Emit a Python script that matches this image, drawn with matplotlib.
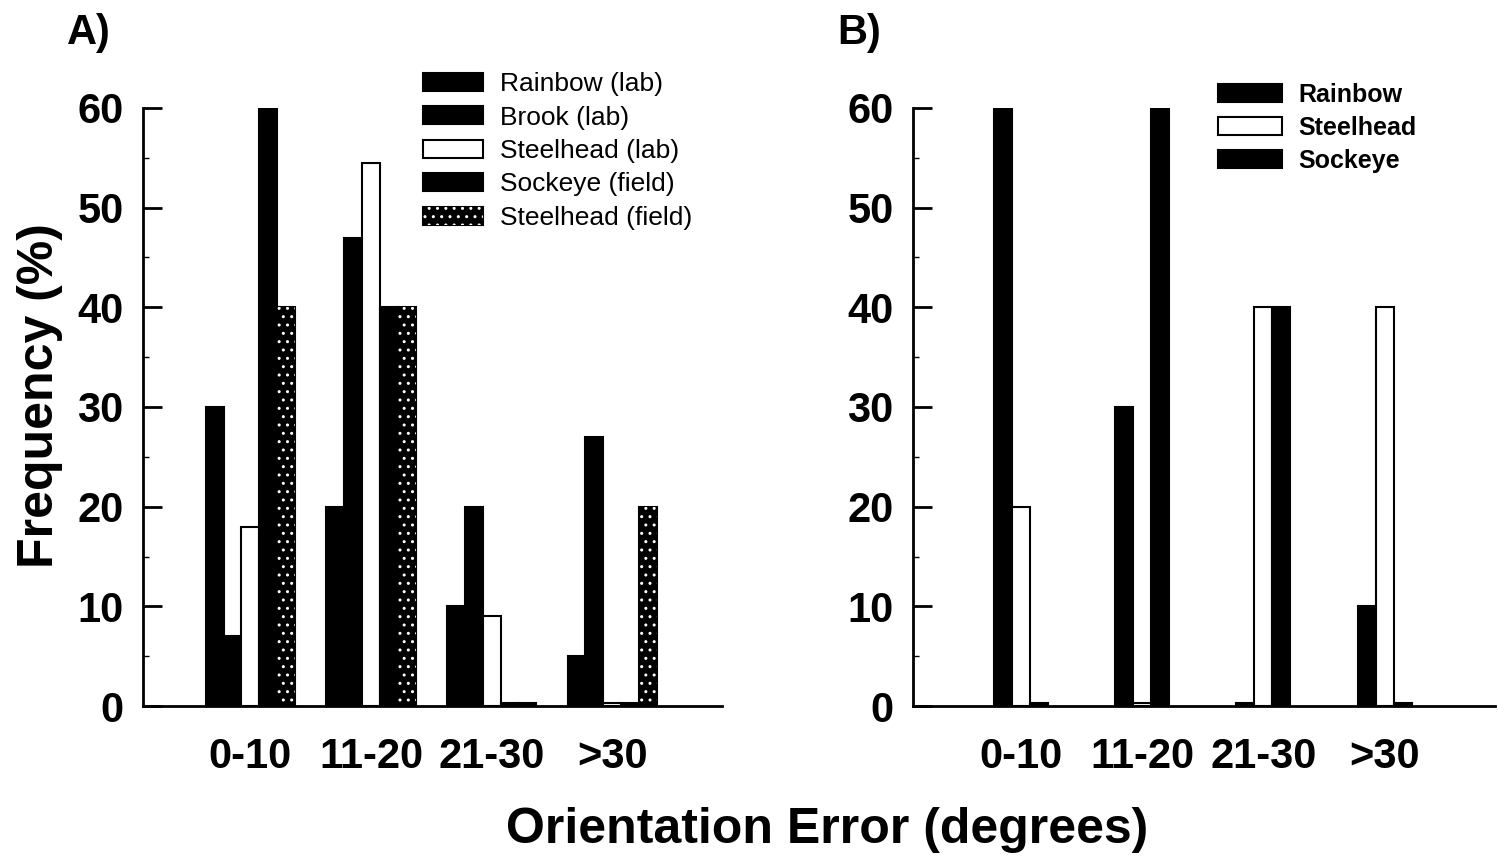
import matplotlib.pyplot as plt
import numpy as np
from matplotlib.patches import Patch
from matplotlib.legend_handler import HandlerTuple

plt.rcParams['font.family'] = ['Liberation Sans', 'DejaVu Sans']
plt.rcParams['hatch.linewidth'] = 1.0
plt.rcParams['hatch.color'] = 'white'

categories = ['0-10', '11-20', '21-30', '>30']

# A) lab and field fish
rainbow_lab = [30, 20, 10, 5]
brook_lab = [7, 47, 20, 27]
steelhead_lab = [18, 54.5, 9, 0.3]
sockeye_field = [60, 40, 0.3, 0.3]
steelhead_field = [40, 40, 0.3, 20]

# B)
rainbow = [60, 30, 0.3, 10]
steelhead = [20, 0.3, 40, 40]
sockeye = [0.3, 60, 40, 0.3]

BAR_W = 0.148
EDGE = 1.5
STIPPLE = '..'


def legend_handle(style):
    if style == 'solid':
        return Patch(facecolor='black', edgecolor='black', linewidth=EDGE)
    if style == 'open':
        return Patch(facecolor='white', edgecolor='black', linewidth=EDGE)
    return (Patch(facecolor='black', edgecolor='black', linewidth=EDGE),
            Patch(fill=False, edgecolor='white', linewidth=0, hatch=STIPPLE))


def draw_bars(ax, series):
    x = np.arange(len(categories))
    n = len(series)
    for i, (label, vals, style) in enumerate(series):
        pos = x + (i - (n - 1) / 2) * BAR_W
        if style == 'open':
            ax.bar(pos, vals, BAR_W, facecolor='white', edgecolor='black', linewidth=EDGE, zorder=2)
        else:
            ax.bar(pos, vals, BAR_W, facecolor='black', edgecolor='black', linewidth=EDGE, zorder=2)
        if style == 'stipple':
            ax.bar(pos, vals, BAR_W, fill=False, edgecolor='white', linewidth=0, hatch=STIPPLE, zorder=3)


def style_axis(ax):
    x = np.arange(len(categories))
    ax.set_xlim(-0.89, 3.91)
    ax.set_ylim(0, 60)
    ax.spines['top'].set_visible(False)
    ax.spines['right'].set_visible(False)
    ax.spines['left'].set_linewidth(2)
    ax.spines['bottom'].set_linewidth(2)
    ax.set_yticks(range(0, 61, 10))
    ax.set_yticks(range(5, 60, 10), minor=True)
    ax.tick_params(axis='y', which='major', direction='in', length=14, width=2, pad=14, labelsize=30)
    ax.tick_params(axis='y', which='minor', direction='in', length=4, width=1)
    for lab in ax.get_yticklabels():
        lab.set_fontweight('bold')
    ax.set_xticks(x)
    ax.set_xticklabels(categories, fontweight='bold', fontsize=30)
    ax.tick_params(axis='x', length=0, pad=22)


fig = plt.figure(figsize=(14.98, 8.59), dpi=100)
axA = fig.add_axes([143 / 1498, 0.1781, (722 - 143) / 1498, 0.6962])
axB = fig.add_axes([913 / 1498, 0.1781, (1495 - 913) / 1498, 0.6962])

series_a = [
    ('Rainbow (lab)', rainbow_lab, 'solid'),
    ('Brook (lab)', brook_lab, 'solid'),
    ('Steelhead (lab)', steelhead_lab, 'open'),
    ('Sockeye (field)', sockeye_field, 'solid'),
    ('Steelhead (field)', steelhead_field, 'stipple'),
]
series_b = [
    ('Rainbow', rainbow, 'solid'),
    ('Steelhead', steelhead, 'open'),
    ('Sockeye', sockeye, 'solid'),
]

draw_bars(axA, series_a)
draw_bars(axB, series_b)
style_axis(axA)
style_axis(axB)

axA.legend([legend_handle(s) for _, _, s in series_a], [l for l, _, _ in series_a],
           handler_map={tuple: HandlerTuple(ndivide=1, pad=0)},
           loc='upper left', bbox_to_anchor=(423 / 1498, 1 - 72 / 859), bbox_transform=fig.transFigure,
           frameon=False, borderpad=0, borderaxespad=0, fontsize=19,
           handlelength=2.27, handleheight=0.68, handletextpad=0.64, labelspacing=0.36)

legB = axB.legend([legend_handle(s) for _, _, s in series_b], [l for l, _, _ in series_b],
                  loc='upper left', bbox_to_anchor=(1218 / 1498, 1 - 83 / 859), bbox_transform=fig.transFigure,
                  frameon=False, borderpad=0, borderaxespad=0, fontsize=18,
                  handlelength=2.56, handleheight=0.72, handletextpad=0.64, labelspacing=0.36)
for t in legB.get_texts():
    t.set_fontweight('bold')

fig.text(67 / 1498, 1 - 33 / 859, 'A)', fontsize=30, fontweight='bold', ha='left', va='center')
fig.text(837 / 1498, 1 - 33 / 859, 'B)', fontsize=30, fontweight='bold', ha='left', va='center')
fig.text(0.027, 0.539, 'Frequency (%)', rotation=90, fontsize=36, fontweight='bold', ha='center', va='center')
fig.text(0.552, 0.034, 'Orientation Error (degrees)', fontsize=36, fontweight='bold', ha='center', va='center')

fig.savefig('out.png', dpi=100)
